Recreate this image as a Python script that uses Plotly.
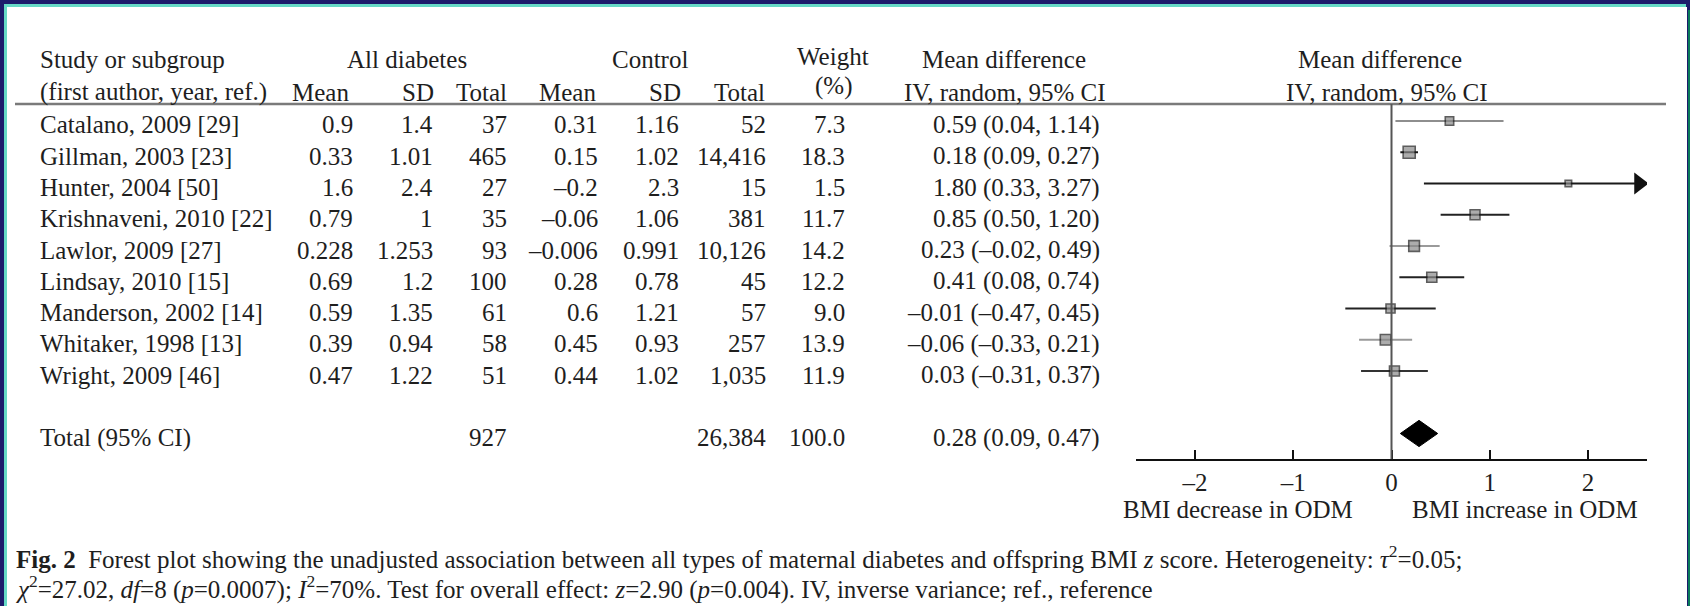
import plotly.graph_objects as go

W, H = 1690, 606

# ---- study data -----------------------------------------------------------
studies = ["Catalano, 2009 [29]", "Gillman, 2003 [23]", "Hunter, 2004 [50]",
           "Krishnaveni, 2010 [22]", "Lawlor, 2009 [27]", "Lindsay, 2010 [15]",
           "Manderson, 2002 [14]", "Whitaker, 1998 [13]", "Wright, 2009 [46]"]
dm_mean = [0.9, 0.33, 1.6, 0.79, 0.228, 0.69, 0.59, 0.39, 0.47]
dm_sd = [1.4, 1.01, 2.4, 1, 1.253, 1.2, 1.35, 0.94, 1.22]
dm_n = [37, 465, 27, 35, 93, 100, 61, 58, 51]
ctl_mean = [0.31, 0.15, -0.2, -0.06, -0.006, 0.28, 0.6, 0.45, 0.44]
ctl_sd = [1.16, 1.02, 2.3, 1.06, 0.991, 0.78, 1.21, 0.93, 1.02]
ctl_n = [52, 14416, 15, 381, 10126, 45, 57, 257, 1035]
weight = [7.3, 18.3, 1.5, 11.7, 14.2, 12.2, 9.0, 13.9, 11.9]
md = [0.59, 0.18, 1.80, 0.85, 0.23, 0.41, -0.01, -0.06, 0.03]
md_lo = [0.04, 0.09, 0.33, 0.50, -0.02, 0.08, -0.47, -0.33, -0.31]
md_hi = [1.14, 0.27, 3.27, 1.20, 0.49, 0.74, 0.45, 0.21, 0.37]

total_label = "Total (95% CI)"
total_dm_n = 927
total_ctl_n = 26384
total_weight = 100.0
total_md, total_lo, total_hi = 0.28, 0.09, 0.47

x_ticks = [-2, -1, 0, 1, 2]
x_range = [-2.6, 2.6]

# ---- styling --------------------------------------------------------------
FONT = "Liberation Serif"
FS = 25
TXT = "#1e1e1e"
NAVY = "#1c1b6b"
TEAL = "#66d9c6"
GREEN = "#0a7a5c"
ci_colors = ["#8e8e8e", "#1a1a1a", "#1a1a1a", "#222222", "#9a9a9a",
             "#222222", "#222222", "#9a9a9a", "#333333"]

ROW0_PX, ROW_PX = 121.0, 31.25        # pixel centre of first row, row pitch
TOP_PX, AXIS_PX = 104.0, 459.0        # table rule and axis line
PLOT_X0, PLOT_X1 = 1136.0, 1647.0     # forest plot horizontal extent
ARROW_PX = 19                         # size of the overflow arrowhead

n = len(studies)
total_row = n + 1
y_rows = list(range(n))
y_top = (TOP_PX - ROW0_PX) / ROW_PX
y_bot = (AXIS_PX - ROW0_PX) / ROW_PX
unit_px = (PLOT_X1 - PLOT_X0) / (x_range[1] - x_range[0])


def px(x):
    return x / W


def py(y):
    return 1 - y / H


def dash(s):
    return s.replace("-", "\u2013")


def fmt(v):
    return dash(f"{v:g}")


fig = go.Figure()

# confidence interval lines (clipped to the axis range)
for i in range(n):
    lo = max(md_lo[i], x_range[0])
    hi = min(md_hi[i], x_range[1])
    fig.add_trace(go.Scatter(x=[lo, hi], y=[y_rows[i], y_rows[i]], mode="lines",
                             line=dict(color=ci_colors[i], width=2),
                             hoverinfo="skip", showlegend=False))

# arrowheads for intervals running past the axis end
over = [i for i in range(n) if md_hi[i] > x_range[1]]
if over:
    tip = x_range[1] - (ARROW_PX * 0.42) / unit_px
    fig.add_trace(go.Scatter(
        x=[tip] * len(over), y=[y_rows[i] for i in over], mode="markers",
        marker=dict(symbol="triangle-right", size=ARROW_PX, color="#111111",
                    line=dict(width=0)),
        hoverinfo="skip", showlegend=False))

# study point estimates, sized by weight
fig.add_trace(go.Scatter(
    x=md, y=y_rows, mode="markers",
    marker=dict(symbol="square", size=[6 + 0.33 * w for w in weight],
                color="#8a8a8a", line=dict(color="#1a1a1a", width=1.6)),
    hoverinfo="skip", showlegend=False))

# pooled estimate diamond
dh = 0.42
fig.add_trace(go.Scatter(
    x=[total_lo, total_md, total_hi, total_md, total_lo],
    y=[total_row, total_row - dh, total_row, total_row + dh, total_row],
    mode="lines", fill="toself", fillcolor="#000000",
    line=dict(color="#000000", width=1), hoverinfo="skip", showlegend=False))

annotations = []


def txt(text, x, y, anchor="left", yref="paper", yshift=0, size=FS):
    annotations.append(dict(text=text, x=px(x), y=y, xref="paper", yref=yref,
                            xanchor=anchor, yanchor="middle", showarrow=False,
                            yshift=yshift, font=dict(family=FONT, size=size, color=TXT)))


# column headers
H1, H2 = 60, 92
txt("Study or subgroup", 38, py(H1))
txt("(first author, year, ref.)", 38, py(H2))
txt("All diabetes", 407, py(H1), "center")
txt("Mean", 351, py(H2), "right")
txt("SD", 436, py(H2), "right")
txt("Total", 509, py(H2), "right")
txt("Control", 650, py(H1), "center")
txt("Mean", 598, py(H2), "right")
txt("SD", 683, py(H2), "right")
txt("Total", 767, py(H2), "right")
txt("Weight", 833, py(57), "center")
txt("(%)", 833, py(86), "center")
txt("Mean difference", 1004, py(H1), "center")
txt("IV, random, 95% CI", 1005, py(H2), "center")
txt("Mean difference", 1380, py(H1), "center")
txt("IV, random, 95% CI", 1387, py(H2), "center")

# table body
col_right = dict(m1=355, s1=435, n1=509, m2=600, s2=681, n2=768, w=847, ci=1102)
TS = -4
for i in range(n):
    y = y_rows[i]
    txt(studies[i], 38, y, "left", "y", TS)
    txt(fmt(dm_mean[i]), col_right["m1"], y, "right", "y", TS)
    txt(fmt(dm_sd[i]), col_right["s1"], y, "right", "y", TS)
    txt(f"{dm_n[i]:,}", col_right["n1"], y, "right", "y", TS)
    txt(fmt(ctl_mean[i]), col_right["m2"], y, "right", "y", TS)
    txt(fmt(ctl_sd[i]), col_right["s2"], y, "right", "y", TS)
    txt(f"{ctl_n[i]:,}", col_right["n2"], y, "right", "y", TS)
    txt(f"{weight[i]:.1f}", col_right["w"], y, "right", "y", TS)
    txt(dash(f"{md[i]:.2f} ({md_lo[i]:.2f}, {md_hi[i]:.2f})"), col_right["ci"], y, "right", "y", TS)

txt(total_label, 38, total_row, "left", "y", TS)
txt(f"{total_dm_n:,}", col_right["n1"], total_row, "right", "y", TS)
txt(f"{total_ctl_n:,}", col_right["n2"], total_row, "right", "y", TS)
txt(f"{total_weight:.1f}", col_right["w"], total_row, "right", "y", TS)
txt(dash(f"{total_md:.2f} ({total_lo:.2f}, {total_hi:.2f})"), col_right["ci"], total_row, "right", "y", TS)

# axis direction labels
txt("BMI decrease in ODM", 1238, py(509), "center")
txt("BMI increase in ODM", 1525, py(509), "center")

# figure caption
cap1 = ("<b>Fig. 2</b>\u00a0 Forest plot showing the unadjusted association between all types of "
        "maternal diabetes and offspring BMI <i>z</i> score. Heterogeneity: <i>\u03c4</i><sup>2</sup>=0.05;")
cap2 = ("<i>\u03c7</i><sup>2</sup>=27.02, <i>df</i>=8 (<i>p</i>=0.0007); <i>I</i><sup>2</sup>=70%. "
        "Test for overall effect: <i>z</i>=2.90 (<i>p</i>=0.004). IV, inverse variance; ref., reference")
txt(cap1, 14, py(557))
txt(cap2, 14, py(587))

shapes = [
    # slide frame
    dict(type="rect", xref="paper", yref="paper", x0=px(4), x1=px(1686), y0=0, y1=py(4),
         fillcolor=TEAL, line=dict(width=0), layer="below"),
    dict(type="rect", xref="paper", yref="paper", x0=px(7), x1=px(1687), y0=0, y1=py(7),
         fillcolor="white", line=dict(width=0), layer="below"),
    dict(type="rect", xref="paper", yref="paper", x0=px(1688), x1=1, y0=0, y1=py(10),
         fillcolor=GREEN, line=dict(width=0), layer="below"),
    # table header rule
    dict(type="line", xref="paper", yref="paper", x0=px(15), x1=px(1666),
         y0=py(TOP_PX), y1=py(TOP_PX), line=dict(color="#7a7a7a", width=2.5)),
    # line of no effect
    dict(type="line", xref="x", yref="y domain", x0=0, x1=0, y0=0, y1=1,
         line=dict(color="#555555", width=2)),
]

fig.update_layout(
    width=W, height=H, margin=dict(l=0, r=0, t=0, b=0),
    paper_bgcolor=NAVY, plot_bgcolor="rgba(0,0,0,0)",
    showlegend=False, annotations=annotations, shapes=shapes,
    xaxis=dict(domain=[px(PLOT_X0), px(PLOT_X1)], range=x_range,
               showgrid=False, zeroline=False, showline=True,
               linecolor="#111111", linewidth=2,
               ticks="inside", ticklen=9, tickwidth=1.5, tickcolor="#111111",
               tickvals=x_ticks, ticktext=[dash(str(t)) for t in x_ticks],
               tickfont=dict(family=FONT, size=FS, color=TXT), fixedrange=True),
    yaxis=dict(domain=[py(AXIS_PX), py(TOP_PX)], range=[y_bot, y_top],
               visible=False, fixedrange=True),
)

fig.write_html("out.html")
